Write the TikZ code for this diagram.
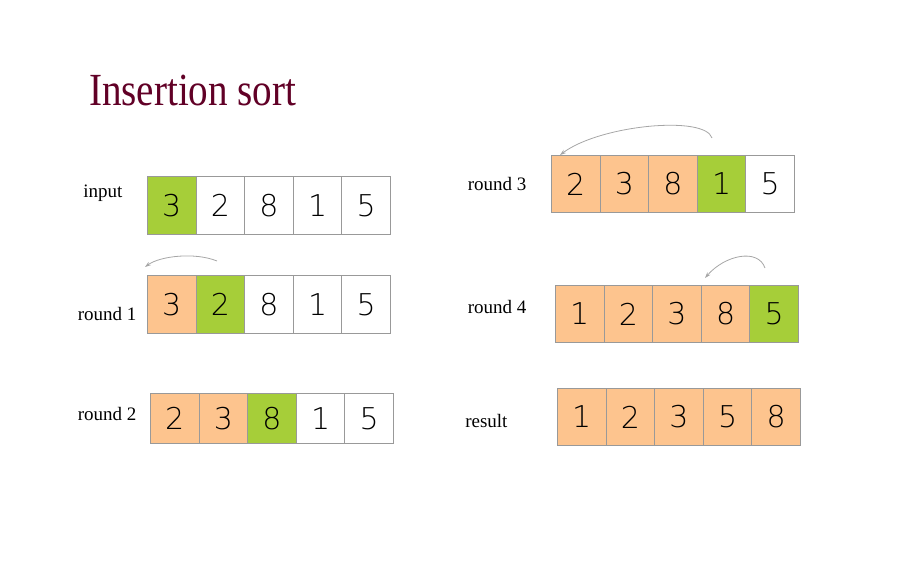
\documentclass[tikz,border=0pt]{standalone}
\usepackage{fontspec}
\usetikzlibrary{arrows.meta}
\setmainfont{Liberation Serif}
\newfontfamily\digitfont{DejaVu Sans ExtraLight}
\begin{document}
\begin{tikzpicture}[x=1pt,y=-1pt,
 cell/.style={draw=gray!80,line width=0.9pt,minimum height=#1,minimum width=48.6pt,inner sep=0pt,anchor=north west,font=\digitfont\fontsize{30}{30}\selectfont},
 lbl/.style={font=\fontsize{19}{19}\selectfont,anchor=east},
 arr/.style={draw=gray!70,line width=0.8pt,-{Stealth[length=6pt,width=4pt]}}]
\useasboundingbox (0,0) rectangle (900,562);
\definecolor{org}{HTML}{FDC48E}\definecolor{grn}{HTML}{A6CE39}
\node[anchor=west,text=red!45!black!85!blue,font=\fontsize{46}{46}\selectfont,xscale=0.85] (title) at (86,90) {Insertion sort};
\newcommand\myrow[7]{%
 \foreach \d/\f [count=\i from 0] in {#6} {
  \node[cell=#4,fill=\f] (#1\i) at ({#2+48.6*\i},#3) {\d};
 }
 \node[lbl] (#1l) at (#7,{#3+#4/2+#5}) {\csname lab#1\endcsname};
}
\def\labin{input}\def\labra{round 1}\def\labrb{round 2}\def\labrc{round 3}\def\labrd{round 4}\def\labres{result}
\myrow{in}{147}{176}{58}{-12}{3/grn,2/white,8/white,1/white,5/white}{126}
\myrow{ra}{147}{275}{58}{10}{3/org,2/grn,8/white,1/white,5/white}{140}
\myrow{rb}{150}{393}{50}{-4}{2/org,3/org,8/grn,1/white,5/white}{140}
\myrow{rc}{551}{155}{57}{0}{2/org,3/org,8/org,1/grn,5/white}{530}
\myrow{rd}{555}{285}{57}{-7}{1/org,2/org,3/org,8/org,5/grn}{530}
\myrow{res}{557}{388}{57}{4}{1/org,2/org,3/org,5/org,8/org}{511}
\coordinate (a1s) at (217,261);\coordinate (a1e) at (145,267);
\draw[arr] (a1s) .. controls (195,252) and (160,256) .. (a1e);
\coordinate (a3s) at (712,138);\coordinate (a3e) at (560,155);
\draw[arr] (a3s) .. controls (705,115) and (600,125) .. (a3e);
\coordinate (a4s) at (765,268);\coordinate (a4e) at (705,278);
\draw[arr] (a4s) .. controls (758,248) and (725,255) .. (a4e);
\end{tikzpicture}
\end{document}
